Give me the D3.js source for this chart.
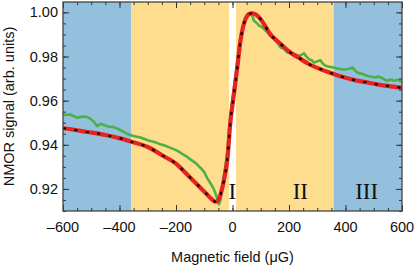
<!DOCTYPE html>
<html><head><meta charset="utf-8">
<script src="https://cdn.jsdelivr.net/npm/d3@7"></script>
<style>body{margin:0;background:#fff}svg{display:block}</style>
</head><body>
<script>
// Data
const dataX = [-597,-575,-550,-530,-514,-500,-491,-479,-467,-455,-440,-420,-397,-385,-373,-350,-326,-300,-290,-270,-255,-235,-219,-200,-184,-165,-149,-130,-113,-100,-90,-78,-66,-54,-48,-42,-37,-28,-19,-13,-7,-1,5,11,17,22,28,37,46,55,64,70,76,85,94,103,111,122,134,146,158,170,182,193,205,217,235,245,253,262,270,280,289,300,311,320,330,345,359,370,382,395,407,416,425,433,442,460,478,492,507,515,525,537,548,560,572,585,600];
const dataY = [0.9535,0.9537,0.9523,0.9528,0.9526,0.9515,0.9505,0.9485,0.9495,0.9490,0.9483,0.9480,0.9467,0.9458,0.9449,0.9440,0.9433,0.9421,0.9417,0.9410,0.9402,0.9394,0.9386,0.9376,0.9364,0.9349,0.9334,0.9317,0.9295,0.9276,0.9250,0.9226,0.9199,0.9158,0.9130,0.9153,0.9205,0.9280,0.9358,0.9449,0.9540,0.9599,0.9658,0.9721,0.9780,0.9835,0.9885,0.9935,0.9971,0.9990,0.9995,0.9985,0.9962,0.9953,0.9940,0.9935,0.9926,0.9912,0.9894,0.9880,0.9864,0.9841,0.9835,0.9818,0.9817,0.9811,0.9803,0.9808,0.9815,0.9799,0.9788,0.9783,0.9773,0.9778,0.9783,0.9767,0.9758,0.9753,0.9750,0.9746,0.9743,0.9740,0.9743,0.9746,0.9750,0.9737,0.9727,0.9721,0.9712,0.9708,0.9705,0.9710,0.9705,0.9696,0.9690,0.9696,0.9690,0.9695,0.9685];
const fitX = [-600,-561,-514,-479,-438,-397,-358,-300,-243,-200,-172,-125,-90,-75,-60,-50,-40,-31,-19,-7,5,17,28,40,50,58,70,85,99,115,134,170,205,235,270,311,353,388,429,471,512,548,595,600];
const fitY = [0.9475,0.9468,0.9458,0.9452,0.9441,0.9429,0.9414,0.9390,0.9348,0.9315,0.9280,0.9220,0.9175,0.9155,0.9142,0.9150,0.9185,0.9235,0.9326,0.9510,0.9630,0.9750,0.9870,0.9947,0.9980,0.9992,0.9996,0.9988,0.9970,0.9940,0.9900,0.9857,0.9818,0.9794,0.9766,0.9743,0.9723,0.9708,0.9694,0.9684,0.9674,0.9667,0.9659,0.9658];
const regions = [
  {x0:-600, x1:-358, fill:"#92c0dd"},
  {x0:-358, x1:-12, fill:"#fedd8e"},
  {x0:12, x1:358, fill:"#fedd8e"},
  {x0:358, x1:600, fill:"#92c0dd"}
];
const regionLabels = [{x:-1, t:"I"},{x:240, t:"II"},{x:475, t:"III"}];
const xTicks = [-600,-400,-200,0,200,400,600];
const yTicks = [0.92,0.94,0.96,0.98,1.00];

const W=415,H=268;
const m={l:63,r:13,t:2,b:57};
const svg=d3.select("body").append("svg").attr("width",W).attr("height",H);
const x=d3.scaleLinear().domain([-600,600]).range([m.l,W-m.r]);
const y=d3.scaleLinear().domain([0.91,1.0047]).range([H-m.b,m.t]);

svg.append("clipPath").attr("id","c").append("rect")
  .attr("x",m.l).attr("y",m.t).attr("width",W-m.l-m.r).attr("height",H-m.t-m.b);
const g=svg.append("g").attr("clip-path","url(#c)");

g.selectAll("rect.reg").data(regions).enter().append("rect")
  .attr("x",d=>x(d.x0)).attr("width",d=>x(d.x1)-x(d.x0))
  .attr("y",m.t).attr("height",H-m.t-m.b).attr("fill",d=>d.fill);

const line=d3.line().curve(d3.curveCatmullRom);
const lineLin=d3.line();
const dataPts=dataX.map((v,i)=>[x(v),y(dataY[i])]);
const fitPts=fitX.map((v,i)=>[x(v),y(fitY[i])]);
g.append("path").attr("d",lineLin(dataPts)).attr("fill","none").attr("stroke","#4caf48").attr("stroke-width",2.6).attr("stroke-linejoin","round");
g.append("path").attr("d",line(fitPts)).attr("fill","none").attr("stroke","#e8221e").attr("stroke-width",4.2);
g.append("path").attr("d",line(fitPts)).attr("fill","none").attr("stroke","#000").attr("stroke-width",2.2).attr("stroke-dasharray","3,8.5");

svg.selectAll("text.reg").data(regionLabels).enter().append("text")
  .attr("x",d=>x(d.x)).attr("y",199).attr("text-anchor","middle")
  .attr("font-family","Liberation Serif, serif").attr("font-size",23).attr("fill","#111").text(d=>d.t);

// Axes with inward ticks on all sides
const font="Liberation Sans, Arial, sans-serif";
const minorX=d3.range(-600,601,50), minorY=d3.range(0.91,1.0047,0.005);
function tickAxis(axisFn, scale, ticks, size, transform){
  const a=svg.append("g").attr("transform",transform)
    .call(axisFn(scale).tickValues(ticks).tickSize(size).tickFormat(""));
  a.select(".domain").remove();
  a.selectAll("line").attr("stroke","#333").attr("stroke-width",1);
}
const tBot=`translate(0,${H-m.b})`, tTop=`translate(0,${m.t})`, tLef=`translate(${m.l},0)`, tRig=`translate(${W-m.r},0)`;
tickAxis(d3.axisTop, x, minorX, 3, tBot);
tickAxis(d3.axisTop, x, xTicks, 6, tBot);
tickAxis(d3.axisBottom, x, minorX, 3, tTop);
tickAxis(d3.axisBottom, x, xTicks, 6, tTop);
tickAxis(d3.axisRight, y, minorY, 3, tLef);
tickAxis(d3.axisRight, y, yTicks, 6, tLef);
tickAxis(d3.axisLeft, y, minorY, 3, tRig);
tickAxis(d3.axisLeft, y, yTicks, 6, tRig);

svg.append("rect").attr("x",m.l).attr("y",m.t).attr("width",W-m.l-m.r).attr("height",H-m.t-m.b)
  .attr("fill","none").attr("stroke","#444").attr("stroke-width",1.3);

const fmtX=v=>(v<0?"\u2013":"")+Math.abs(v);
svg.append("g").selectAll("text").data(xTicks).enter().append("text")
  .attr("x",d=>x(d)).attr("y",232).attr("text-anchor","middle")
  .attr("font-family",font).attr("font-size",14.5).attr("fill","#111").text(fmtX);
svg.append("g").selectAll("text").data(yTicks).enter().append("text")
  .attr("x",58).attr("y",d=>y(d)+5).attr("text-anchor","end")
  .attr("font-family",font).attr("font-size",14.5).attr("fill","#111").text(d=>d.toFixed(2));

svg.append("text").attr("x",(m.l+W-m.r)/2).attr("y",262).attr("text-anchor","middle")
  .attr("font-family",font).attr("font-size",14.5).attr("fill","#111").text("Magnetic field (\u03bcG)");
svg.append("text").attr("transform",`translate(14,${(m.t+H-m.b)/2}) rotate(-90)`).attr("text-anchor","middle")
  .attr("font-family",font).attr("font-size",14.5).attr("fill","#111").text("NMOR signal (arb. units)");
</script>
</body></html>
